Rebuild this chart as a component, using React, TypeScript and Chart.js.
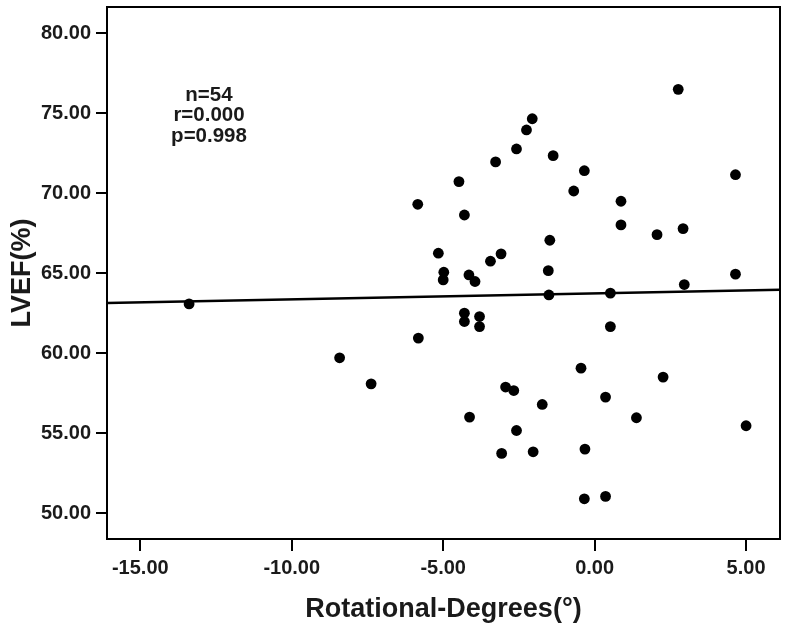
import React, { useEffect, useRef } from "react";
import { Chart, registerables } from "chart.js";

Chart.register(...registerables);

const rotationDegrees = [
  -13.39, -8.42, -7.38, 2.76, -2.06, -2.25, -2.58, -3.27, -1.37, -0.34,
  -4.48, -0.69, 4.65, -5.84, -4.3, 0.87, 0.87, 2.06, 2.92, -1.48,
  -5.16, -3.09, -3.44, -4.98, -5.0, -4.15, -3.95, -1.53, 4.65, 2.96,
  -1.51, 0.52, -4.3, -4.3, -3.8, -3.8, 0.52, -5.82, -0.45, 2.26,
  -2.94, -2.67, 0.36, -1.73, -4.13, 1.38, 5.0, -2.58, -3.07, -2.03,
  -0.32, -0.34, 0.36,
];
const lvef = [
  63.08, 59.71, 58.08, 76.5, 74.66, 73.96, 72.77, 71.96, 72.35, 71.41,
  70.73, 70.14, 71.16, 69.31, 68.64, 69.5, 68.02, 67.41, 67.79, 67.06,
  66.25, 66.21, 65.75, 65.06, 64.58, 64.89, 64.48, 65.16, 64.94, 64.29,
  63.64, 63.75, 62.5, 61.98, 62.29, 61.66, 61.66, 60.94, 59.06, 58.5,
  57.88, 57.66, 57.25, 56.79, 56.0, 55.96, 55.46, 55.16, 53.73, 53.83,
  54.0, 50.89, 51.04,
];
const fitX = [-16.1, 6.12];
const fitY = [63.14, 63.96];
const xTicks = [-15, -10, -5, 0, 5];
const yTicks = [50, 55, 60, 65, 70, 75, 80];
const statsText = ["n=54", "r=0.000", "p=0.998"];

const FONT = "'Liberation Sans', Arial, sans-serif";
const TEXT = "#1a1a1a";

const framePlugin = {
  id: "frame",
  afterDatasetsDraw(chart: any) {
    const { ctx, chartArea } = chart;
    ctx.save();
    ctx.strokeStyle = "#000";
    ctx.lineWidth = 2;
    ctx.strokeRect(chartArea.left, chartArea.top, chartArea.right - chartArea.left, chartArea.bottom - chartArea.top);
    ctx.restore();
  },
};

const statsPlugin = {
  id: "stats",
  afterDraw(chart: any) {
    const { ctx, chartArea } = chart;
    ctx.save();
    ctx.fillStyle = TEXT;
    ctx.font = `bold 20.5px ${FONT}`;
    ctx.textAlign = "center";
    ctx.textBaseline = "middle";
    const cx = chartArea.left + 102;
    const cy = chartArea.top + 88;
    statsText.forEach((t, i) => ctx.fillText(t, cx, cy + i * 20.5));
    ctx.restore();
  },
};

export default function App() {
  const ref = useRef<HTMLCanvasElement>(null);
  useEffect(() => {
    if (!ref.current) return;
    const points = rotationDegrees.map((x, i) => ({ x, y: lvef[i] }));
    const fit = fitX.map((x, i) => ({ x, y: fitY[i] }));
    const chart = new Chart(ref.current, {
      type: "scatter",
      data: {
        datasets: [
          {
            type: "line" as any,
            data: fit,
            borderColor: "#000",
            borderWidth: 2.5,
            pointRadius: 0,
            showLine: true,
            fill: false,
          } as any,
          {
            data: points,
            backgroundColor: "#000",
            borderColor: "#000",
            borderWidth: 0,
            pointRadius: 5.4,
          },
        ],
      },
      options: {
        animation: false,
        responsive: false,
        maintainAspectRatio: false,
        layout: { padding: { top: 7, right: 8, left: 0, bottom: 0 } },
        plugins: { legend: { display: false }, tooltip: { enabled: false } },
        scales: {
          x: {
            type: "linear",
            min: -16.1,
            max: 6.12,
            afterBuildTicks: (s: any) => {
              s.ticks = xTicks.map((v) => ({ value: v }));
            },
            afterFit: (s: any) => {
              s.height = 96;
              s.paddingLeft = 0;
              s.paddingRight = 0;
            },
            grid: { drawOnChartArea: false, drawTicks: true, tickLength: 12, color: "#000", lineWidth: 2 },
            border: { display: true, color: "#000", width: 2 },
            ticks: {
              color: TEXT,
              font: { family: FONT, size: 20, weight: "bold" },
              padding: 5,
              maxRotation: 0,
              callback: (v: any) => Number(v).toFixed(2),
            },
            title: {
              display: true,
              text: "Rotational-Degrees(°)",
              color: TEXT,
              font: { family: FONT, size: 27, weight: "bold" },
              padding: { top: 0, bottom: 9 },
            },
          },
          y: {
            type: "linear",
            min: 48.375,
            max: 81.65,
            afterBuildTicks: (s: any) => {
              s.ticks = yTicks.map((v) => ({ value: v }));
            },
            afterFit: (s: any) => {
              s.width = 107;
              s.paddingTop = 0;
              s.paddingBottom = 0;
            },
            grid: { drawOnChartArea: false, drawTicks: true, tickLength: 11, color: "#000", lineWidth: 2 },
            border: { display: true, color: "#000", width: 2 },
            ticks: {
              color: TEXT,
              font: { family: FONT, size: 20, weight: "bold" },
              padding: 5,
              callback: (v: any) => Number(v).toFixed(2),
            },
            title: {
              display: true,
              text: "LVEF(%)",
              color: TEXT,
              font: { family: FONT, size: 27, weight: "bold" },
              padding: { top: 6, bottom: 0 },
            },
          },
        },
      },
      plugins: [framePlugin, statsPlugin],
    });
    return () => chart.destroy();
  }, []);
  return (
    <div style={{ position: "fixed", left: 0, top: 0, width: 788, height: 635, background: "#fff" }}>
      <canvas ref={ref} width={788} height={635} style={{ width: 788, height: 635, display: "block" }} />
    </div>
  );
}
